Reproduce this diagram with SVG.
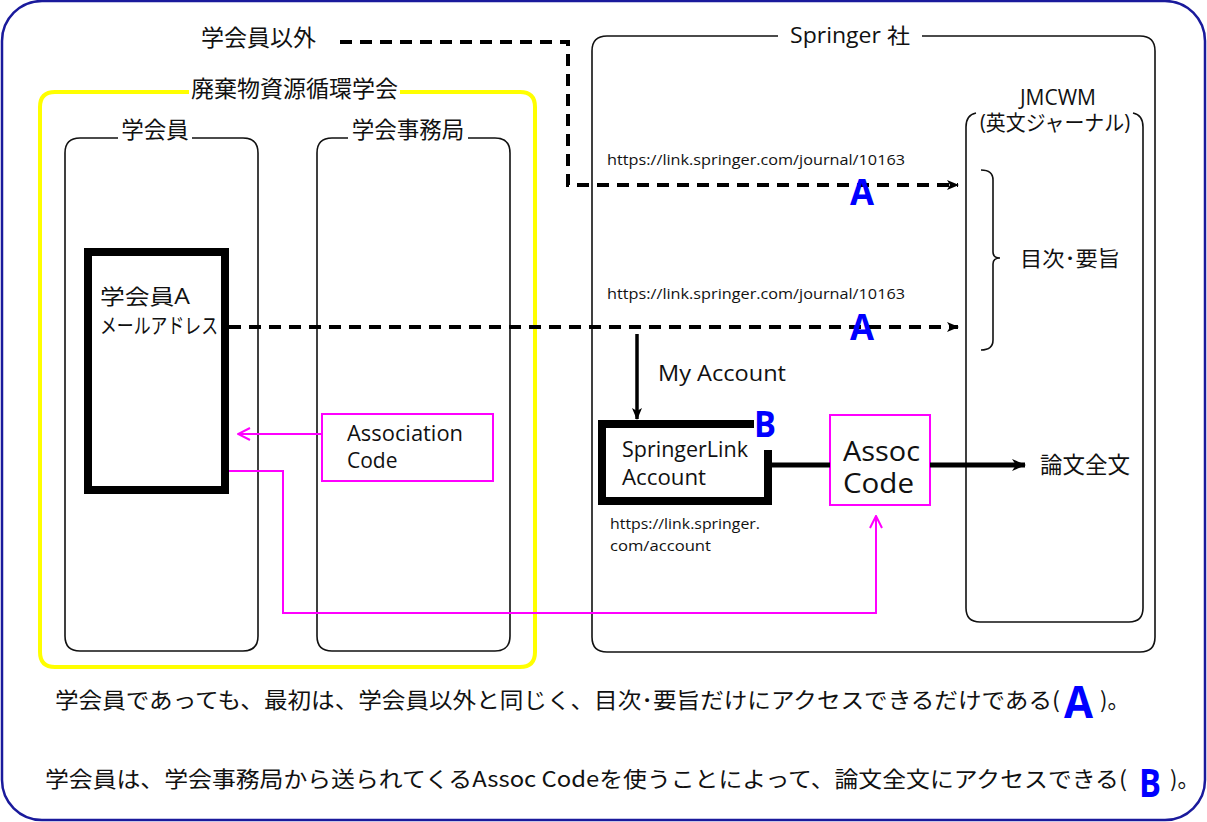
<svg xmlns="http://www.w3.org/2000/svg" width="1207" height="822" viewBox="0 0 1207 822">
<defs>
<style>
text{font-family:"Open Sans","Noto Sans CJK JP",sans-serif;fill:#111}
.jp{font-family:"Noto Sans CJK JP",sans-serif}
.t20{font-size:21px}
.j22{font-size:22.5px}
.t14{font-size:15px}
.blue{fill:#0000ff;font-weight:bold;font-family:"Open Sans",sans-serif}
.box{fill:none;stroke:#111;stroke-width:1.6}
.mag{fill:none;stroke:#ff00ff;stroke-width:2}
.dash{fill:none;stroke:#000;stroke-width:4;stroke-dasharray:12 8}
</style>
<marker id="ah" viewBox="0 0 12 10" refX="11" refY="5" markerWidth="12" markerHeight="10" markerUnits="userSpaceOnUse" orient="auto">
<path d="M0,0 L12,5 L0,10 L3,5 Z" fill="#000"/>
</marker>
<marker id="ah2" viewBox="0 0 14 12" refX="13" refY="6" markerWidth="14" markerHeight="12" markerUnits="userSpaceOnUse" orient="auto">
<path d="M0,0 L14,6 L0,12 L4,6 Z" fill="#000"/>
</marker>
<marker id="mh" viewBox="0 0 14 14" refX="13" refY="7" markerWidth="14" markerHeight="14" markerUnits="userSpaceOnUse" orient="auto">
<path d="M1,1 L13,7 L1,13" fill="none" stroke="#ff00ff" stroke-width="2"/>
</marker>
</defs>
<rect x="0" y="0" width="1207" height="822" fill="#fff"/>
<rect id="frame" x="2" y="1" width="1203" height="819" rx="40" fill="none" stroke="#1a1a9c" stroke-width="2.5"/>

<g id="springer">
<path class="box" d="M778,36 H607 Q592,36 592,51 V637 Q592,652 607,652 H1140 Q1155,652 1155,637 V51 Q1155,36 1140,36 H922"/>
<text class="t20" x="790" y="43" textLength="120" lengthAdjust="spacingAndGlyphs">Springer  社</text>
</g>

<g id="society">
<path d="M189,92 H55 Q40,92 40,107 V652 Q40,667 55,667 H520 Q535,667 535,652 V107 Q535,92 520,92 H400" fill="none" stroke="#ffff00" stroke-width="4"/>
<text class="jp" font-size="23" x="294.5" y="97" text-anchor="middle">廃棄物資源循環学会</text>
</g>

<g id="member">
<path class="box" d="M118,138 H80 Q65,138 65,153 V636 Q65,651 80,651 H243 Q258,651 258,636 V153 Q258,138 243,138 H192"/>
<text class="jp j22" x="155" y="138" text-anchor="middle">学会員</text>
</g>

<g id="office">
<path class="box" d="M348,138 H332 Q317,138 317,153 V636 Q317,651 332,651 H495 Q510,651 510,636 V153 Q510,138 495,138 H468"/>
<text class="jp j22" x="408" y="138" text-anchor="middle">学会事務局</text>
</g>

<g id="jmcwm">
<path class="box" d="M976,113 Q966,115 966,127 V608 Q966,622 980,622 H1129 Q1143,622 1143,608 V127 Q1143,115 1133,113"/>
<text class="t20" x="1058" y="105" text-anchor="middle">JMCWM</text>
<text class="t20" x="1055" y="130" text-anchor="middle" textLength="150" lengthAdjust="spacingAndGlyphs">(英文ジャーナル)</text>
<path d="M981,170 Q993,170 993,180 V252 Q993,258 1000,258 Q993,258 993,264 V340 Q993,350 981,350" fill="none" stroke="#111" stroke-width="1.6"/>
<text class="jp" font-size="21" x="1020" y="266" textLength="100" lengthAdjust="spacingAndGlyphs">目次･要旨</text>
</g>

<g id="memberA">
<rect x="88" y="252" width="137" height="238" fill="none" stroke="#000" stroke-width="8"/>
<text class="t20" x="100" y="304" textLength="90" lengthAdjust="spacingAndGlyphs">学会員A</text>
<text class="jp" font-size="21" x="100" y="333" textLength="118" lengthAdjust="spacingAndGlyphs">メールアドレス</text>
</g>

<g id="nonmember">
<text class="jp" font-size="23" x="201" y="46">学会員以外</text>
</g>

<g id="assocation-code">
<rect class="mag" x="322" y="414" width="171" height="67"/>
<text class="t20" x="347" y="441" textLength="116" lengthAdjust="spacingAndGlyphs">Association</text>
<text class="t20" x="347" y="468">Code</text>
</g>

<g id="springerlink">
<path d="M768,450 V501 H602 V424 H754" fill="none" stroke="#000" stroke-width="8"/>
<text class="t20" x="622" y="457" textLength="126" lengthAdjust="spacingAndGlyphs">SpringerLink</text>
<text class="t20" x="622" y="485" textLength="84" lengthAdjust="spacingAndGlyphs">Account</text>
<text class="t14" x="610" y="529" textLength="150" lengthAdjust="spacingAndGlyphs">https://link.springer.</text>
<text class="t14" x="610" y="551" textLength="101" lengthAdjust="spacingAndGlyphs">com/account</text>
<text class="blue" x="754" y="437" font-size="36" textLength="22" lengthAdjust="spacingAndGlyphs">B</text>
</g>

<g id="assoc-code">
<rect class="mag" x="830" y="415" width="100" height="90"/>
<text x="843" y="461" font-size="27" textLength="77" lengthAdjust="spacingAndGlyphs">Assoc</text>
<text x="843" y="493" font-size="27" textLength="71" lengthAdjust="spacingAndGlyphs">Code</text>
</g>

<g id="fulltext">
<text class="jp j22" x="1040" y="473">論文全文</text>
</g>

<g id="connectors">
<path class="dash" d="M340,42 H568 V185 H958" marker-end="url(#ah)"/>
<path class="dash" d="M229,327 H958" marker-end="url(#ah)"/>
<line x1="637" y1="334" x2="637" y2="419" stroke="#000" stroke-width="3.5" marker-end="url(#ah)"/>
<line x1="770" y1="465" x2="830" y2="465" stroke="#000" stroke-width="5"/>
<line x1="930" y1="465" x2="1025" y2="465" stroke="#000" stroke-width="5" marker-end="url(#ah2)"/>
<line class="mag" x1="322" y1="434" x2="238" y2="434" marker-end="url(#mh)"/>
<path class="mag" d="M229,471 H283 V613 H876 V516" marker-end="url(#mh)"/>
<text class="t14" x="607" y="165" textLength="298" lengthAdjust="spacingAndGlyphs">https://link.springer.com/journal/10163</text>
<text class="t14" x="607" y="299" textLength="298" lengthAdjust="spacingAndGlyphs">https://link.springer.com/journal/10163</text>
<text class="blue" x="850" y="205" font-size="36" textLength="24" lengthAdjust="spacingAndGlyphs">A</text>
<text class="blue" x="850" y="340" font-size="36" textLength="24" lengthAdjust="spacingAndGlyphs">A</text>
<text class="t20" x="658" y="381" textLength="128" lengthAdjust="spacingAndGlyphs">My  Account</text>
</g>

<g id="notes">
<text class="jp" x="55" y="708" font-size="22" textLength="1005" lengthAdjust="spacingAndGlyphs">学会員であっても、最初は、学会員以外と同じく、目次･要旨だけにアクセスできるだけである(</text>
<text class="blue" x="1064" y="718" font-size="45" textLength="29" lengthAdjust="spacingAndGlyphs">A</text>
<text class="jp" x="1100" y="708" font-size="22">)。</text>
<text class="jp" x="45" y="787" font-size="22" textLength="1082" lengthAdjust="spacingAndGlyphs">学会員は、学会事務局から送られてくるAssoc  Codeを使うことによって、論文全文にアクセスできる(</text>
<text class="blue" x="1139" y="797" font-size="40" textLength="22" lengthAdjust="spacingAndGlyphs">B</text>
<text class="jp" x="1170" y="787" font-size="22">)。</text>
</g>
</svg>
